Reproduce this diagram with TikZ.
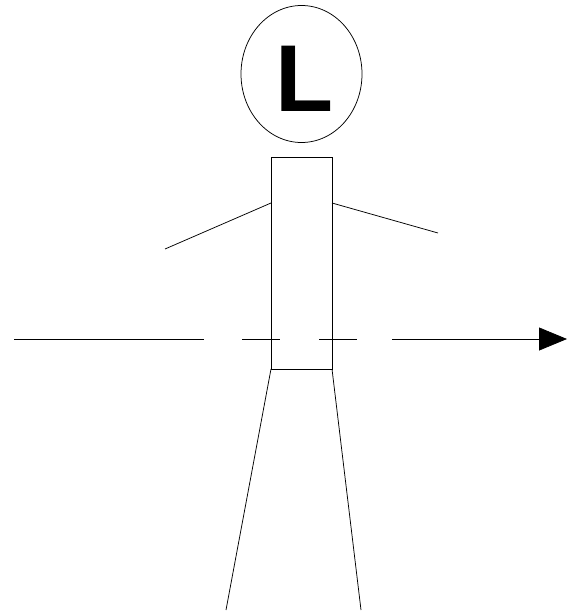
\documentclass[tikz,border=0pt]{standalone}
\usepackage{fontspec}
\setmainfont{Liberation Sans}
\usetikzlibrary{arrows.meta,shapes.geometric}
\begin{document}
\begin{tikzpicture}[x=1pt,y=-1pt,line width=0.75pt,
  limb/.style={draw=black},
  axis/.style={draw=black},
  headshape/.style={draw=black,ellipse,minimum width=121pt,minimum height=137pt,inner sep=0pt},
  bodybox/.style={draw=black,rectangle,minimum width=61pt,minimum height=212pt,inner sep=0pt}]
\useasboundingbox (0,0) rectangle (567,615);
\node[headshape] (head) at (301.5,74) {};
\node[font=\bfseries\fontsize{95}{95}\selectfont,anchor=base west,inner sep=0pt] (letter) at (275,112) {L};
\node[bodybox] (body) at (301.5,263) {};
\coordinate (armLa) at (271,203);
\coordinate (armLb) at (165,249);
\coordinate (armRa) at (332,203);
\coordinate (armRb) at (438,233);
\coordinate (legLa) at (271,369);
\coordinate (legLb) at (226,610);
\coordinate (legRa) at (332,369);
\coordinate (legRb) at (361,610);
\coordinate (a0) at (14,339);\coordinate (a1) at (204,339);
\coordinate (b0) at (242,339);\coordinate (b1) at (280,339);
\coordinate (c0) at (319,339);\coordinate (c1) at (357,339);
\coordinate (d0) at (392,339);\coordinate (d1) at (567,339);
\draw[limb] (armLa) -- (armLb);
\draw[limb] (armRa) -- (armRb);
\draw[limb] (legLa) -- (legLb);
\draw[limb] (legRa) -- (legRb);
\draw[axis] (a0) -- (a1);
\draw[axis] (b0) -- (b1);
\draw[axis] (c0) -- (c1);
\draw[axis,-{Triangle[length=28pt,width=23pt]}] (d0) -- (d1);
\end{tikzpicture}
\end{document}
